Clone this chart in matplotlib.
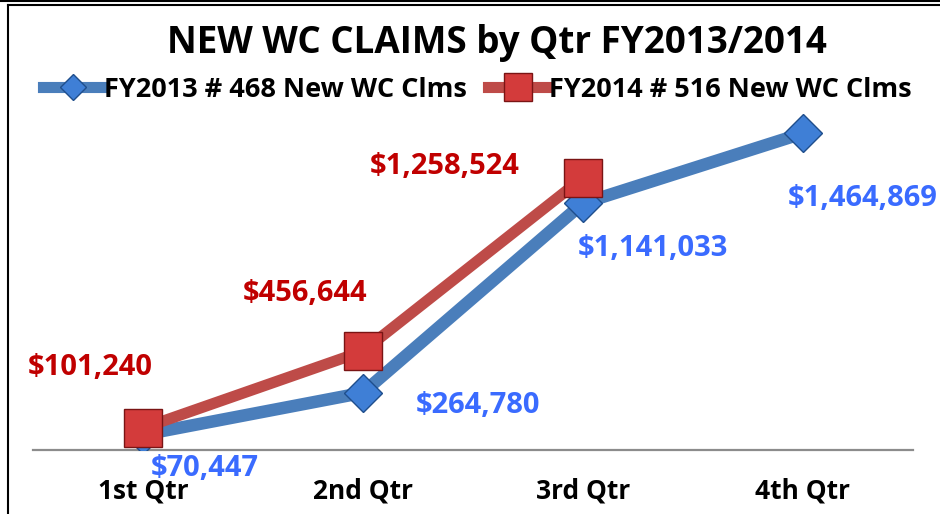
import matplotlib.pyplot as plt
from matplotlib.lines import Line2D

plt.rcParams['font.family'] = ['Open Sans', 'DejaVu Sans']
plt.rcParams['font.weight'] = 'bold'

# data
quarters = ['1st Qtr', '2nd Qtr', '3rd Qtr', '4th Qtr']
fy2013 = [70447, 264780, 1141033, 1464869]
fy2014 = [101240, 456644, 1258524]
name2013 = 'FY2013 # 468 New WC Clms'
name2014 = 'FY2014 # 516 New WC Clms'

blue_line = '#4A7EBB'
red_line = '#BE4B48'
blue_txt = '#3A6BFF'
red_txt = '#C00000'

fig = plt.figure(figsize=(9.4, 5.14), dpi=100)
ax = fig.add_axes([0.035, 0.1245, 0.936, 0.673])

x13 = range(len(fy2013))
x14 = range(len(fy2014))
l1, = ax.plot(x13, fy2013, color=blue_line, lw=9, solid_capstyle='butt',
              marker='D', ms=19.5, mfc='#3F7FD6', mec='#1F4E8C', mew=1, zorder=3)
l2, = ax.plot(x14, fy2014, color=red_line, lw=8, solid_capstyle='butt',
              marker='s', ms=28, mfc='#D33B3B', mec='#7A1414', mew=1, zorder=4)

# data labels
blue_off = [(62, -34), (115, -13), (70, -45), (60, -65)]
red_off = [(-53, 61), (-58, 58), (-138, 11)]
for i, v in enumerate(fy2013):
    ax.annotate(f'${v:,}', (i, v), xytext=blue_off[i], textcoords='offset pixels',
                ha='center', va='center', color=blue_txt, fontsize=21, fontweight='bold', zorder=5)
for i, v in enumerate(fy2014):
    ax.annotate(f'${v:,}', (i, v), xytext=red_off[i], textcoords='offset pixels',
                ha='center', va='center', color=red_txt, fontsize=21, fontweight='bold', zorder=5)

ax.set_xlim(-0.5, 3.5)
ax.set_ylim(0, 1600000)
ax.set_xticks(range(len(quarters)))
ax.set_xticklabels(quarters, fontsize=19, fontweight='bold')
ax.tick_params(axis='x', length=0, pad=20)
ax.set_yticks([])
for s in ['top', 'right', 'left']:
    ax.spines[s].set_visible(False)
ax.spines['bottom'].set_color('#8C8C8C')
ax.spines['bottom'].set_linewidth(1.6)

fig.text(0.529, 0.916, 'NEW WC CLAIMS by Qtr FY2013/2014', ha='center', va='center',
         fontsize=26.5, fontweight='bold')

h1 = Line2D([0], [0], color=blue_line, lw=8, marker='D', ms=13, mfc='#3F7FD6', mec='#1F4E8C')
h2 = Line2D([0], [0], color=red_line, lw=8, marker='s', ms=20, mfc='#D33B3B', mec='#7A1414')
fig.legend([h1, h2], [name2013, name2014], loc='center', bbox_to_anchor=(0.508, 0.825),
           ncol=2, frameon=False, handlelength=2.2, handletextpad=0.05,
           columnspacing=0.8, prop={'weight': 'bold', 'size': 19.5})

# chart frame
fig.add_artist(Line2D([8 / 940, 8 / 940], [0, 1 - 5 / 514], color='black', lw=1.5,
                      transform=fig.transFigure))
fig.add_artist(Line2D([8 / 940, 1], [1 - 5 / 514, 1 - 5 / 514], color='black', lw=1.5,
                      transform=fig.transFigure))
fig.add_artist(Line2D([0, 1], [1 - 1 / 514, 1 - 1 / 514], color='black', lw=1.5,
                      transform=fig.transFigure))

fig.savefig('out.png', dpi=100)
